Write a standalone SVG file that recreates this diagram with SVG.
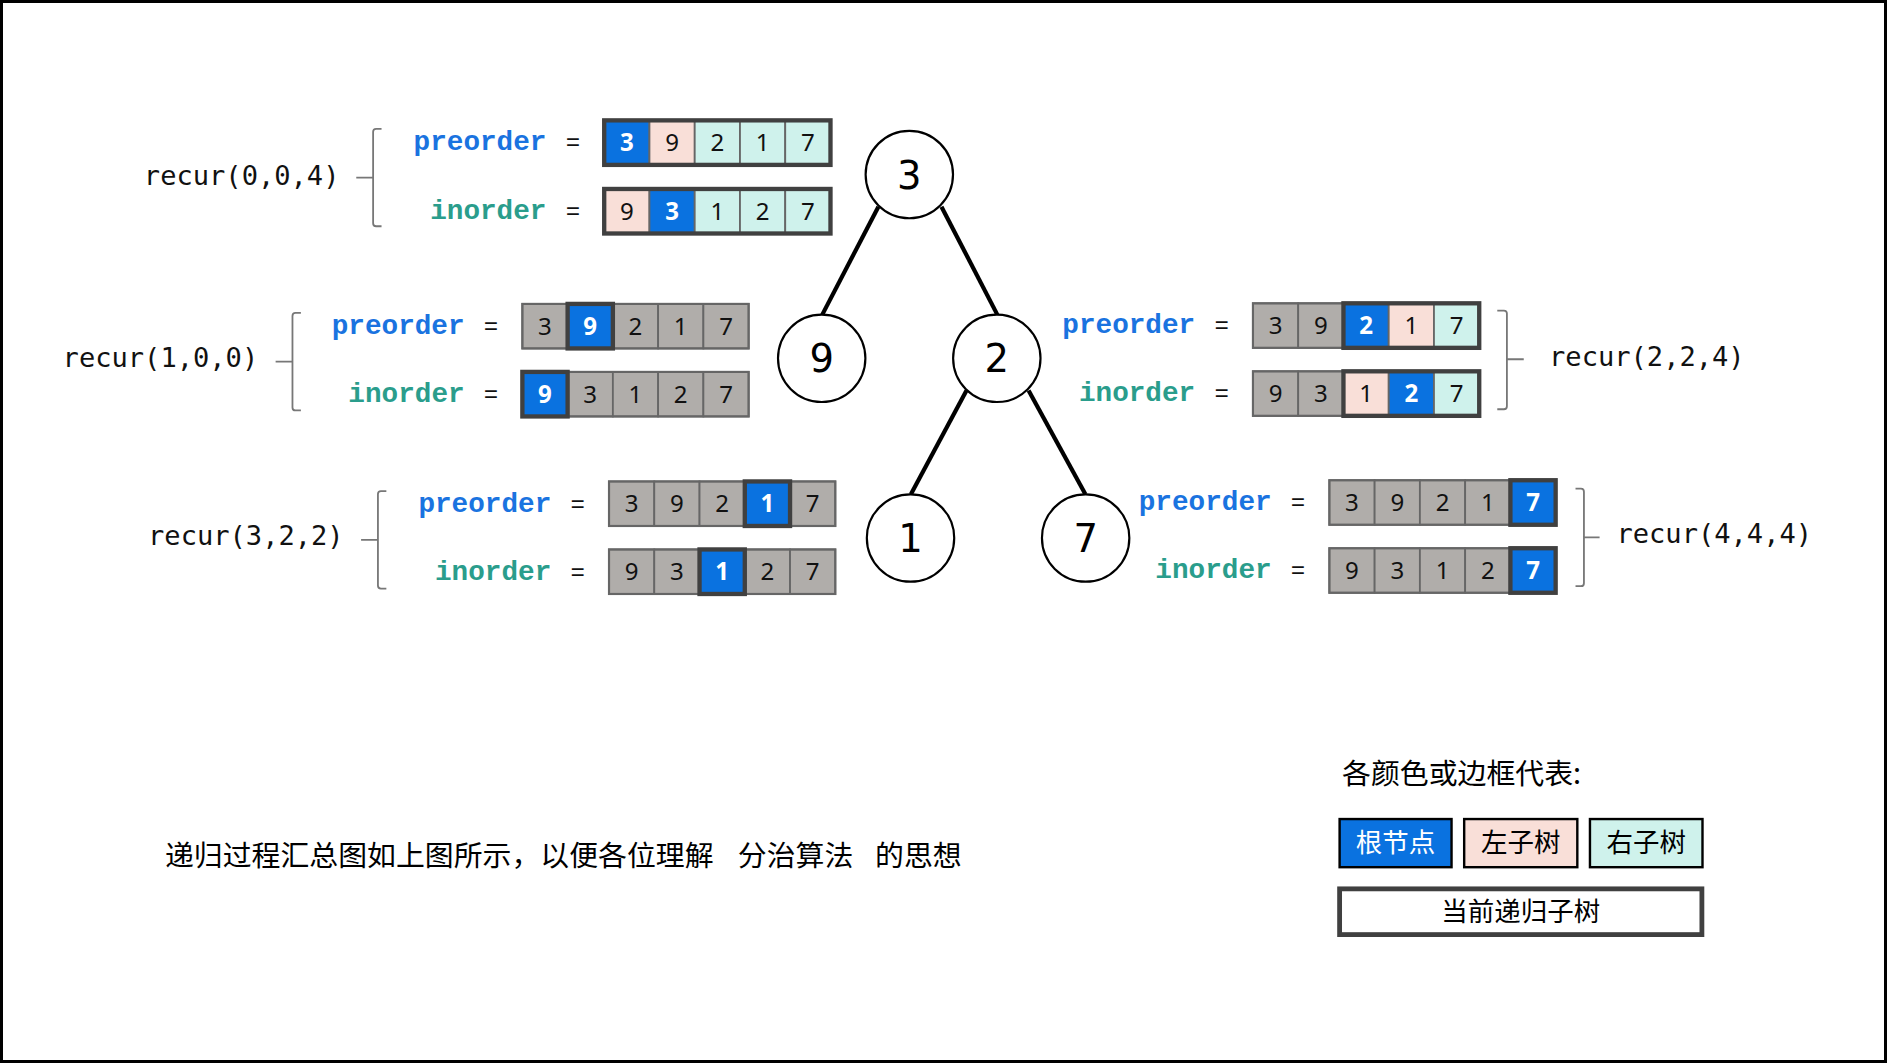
<svg xmlns="http://www.w3.org/2000/svg" width="1887" height="1063" viewBox="0 0 1887 1063">
<style>
.cB{fill:#0a72e0;stroke:#666;stroke-width:1.5}
.cP{fill:#f9dfd8;stroke:#666;stroke-width:1.5}
.cC{fill:#cff2ec;stroke:#666;stroke-width:1.5}
.cG{fill:#b0adaa;stroke:#666;stroke-width:1.5}
.ol{fill:none;stroke:#666;stroke-width:1.8}
.hl{fill:none;stroke:#404040;stroke-width:3.6}
.d{font-family:"Noto Sans","Open Sans",sans-serif;font-size:20px;text-anchor:middle;fill:#111}
.dw{font-weight:bold;fill:#fff}
.pre{font-family:"Liberation Mono",monospace;font-weight:bold;font-size:23px;fill:#1a73e0;text-anchor:end}
.ino{fill:#2a9d8c}
.eq{font-family:"Liberation Mono",monospace;font-size:20px;text-anchor:middle;fill:#111}
.rec{font-family:"DejaVu Sans Mono",monospace;font-size:22.5px;fill:#111}
.br{fill:none;stroke:#777;stroke-width:1.5}
.edge{stroke:#000;stroke-width:3.5;fill:none}
.nc{fill:#fff;stroke:#000;stroke-width:1.8}
.nt{font-family:"DejaVu Sans",sans-serif;font-size:32px;text-anchor:middle;fill:#000}
.cjk{font-family:"Noto Sans CJK SC",sans-serif;font-size:22px;fill:#000}
</style>
<rect x="1.5" y="1.5" width="1884" height="1060" fill="#fff" stroke="#000" stroke-width="3"/>
<g transform="scale(1.2036)">
<g id="connectors">
<line class="edge" x1="729.8" y1="171.7" x2="683.2" y2="261.4"/>
<line class="edge" x1="782.2" y1="171.7" x2="828.6" y2="261.4"/>
<line class="edge" x1="803" y1="324.4" x2="756.8" y2="410.7"/>
<line class="edge" x1="854.6" y1="324.4" x2="901.8" y2="410.7"/>
</g>
<g id="node3"><circle class="nc" cx="755.5" cy="145" r="36.3"/><text class="nt" x="755.5" y="156.7">3</text></g>
<g id="node9"><circle class="nc" cx="682.7" cy="297.7" r="36.3"/><text class="nt" x="682.7" y="309.4">9</text></g>
<g id="node2"><circle class="nc" cx="828.2" cy="297.7" r="36.3"/><text class="nt" x="828.2" y="309.4">2</text></g>
<g id="node1"><circle class="nc" cx="756.5" cy="447" r="36.3"/><text class="nt" x="756.5" y="458.7">1</text></g>
<g id="node7"><circle class="nc" cx="902" cy="447" r="36.3"/><text class="nt" x="902" y="458.7">7</text></g>

<!-- recur(0,0,4) -->
<g id="recur004">
<text class="rec" x="119.5" y="154">recur(0,0,4)</text>
<path class="br" d="M317,107 H312.5 Q310,107 310,109.5 V185.5 Q310,188 312.5,188 H317 M310,147.5 H296"/>
<g transform="translate(502,100)">
<text class="pre" x="-48" y="25">preorder</text><text class="eq" x="-26" y="25">=</text>
<rect class="cB" x="0" y="0" width="37.6" height="37"/><rect class="cP" x="37.6" y="0" width="37.6" height="37"/><rect class="cC" x="75.2" y="0" width="37.6" height="37"/><rect class="cC" x="112.8" y="0" width="37.6" height="37"/><rect class="cC" x="150.4" y="0" width="37.6" height="37"/>
<rect class="hl" x="0" y="0" width="188" height="37"/>
<text class="d dw" x="18.8" y="25.6">3</text><text class="d" x="56.4" y="25.6">9</text><text class="d" x="94" y="25.6">2</text><text class="d" x="131.6" y="25.6">1</text><text class="d" x="169.2" y="25.6">7</text>
</g>
<g transform="translate(502,157)">
<text class="pre ino" x="-48" y="25">inorder</text><text class="eq" x="-26" y="25">=</text>
<rect class="cP" x="0" y="0" width="37.6" height="37"/><rect class="cB" x="37.6" y="0" width="37.6" height="37"/><rect class="cC" x="75.2" y="0" width="37.6" height="37"/><rect class="cC" x="112.8" y="0" width="37.6" height="37"/><rect class="cC" x="150.4" y="0" width="37.6" height="37"/>
<rect class="hl" x="0" y="0" width="188" height="37"/>
<text class="d" x="18.8" y="25.6">9</text><text class="d dw" x="56.4" y="25.6">3</text><text class="d" x="94" y="25.6">1</text><text class="d" x="131.6" y="25.6">2</text><text class="d" x="169.2" y="25.6">7</text>
</g>
</g>

<!-- recur(1,0,0) -->
<g id="recur100">
<text class="rec" x="52" y="305">recur(1,0,0)</text>
<path class="br" d="M250,260 H245.5 Q243,260 243,262.5 V338.5 Q243,341 245.5,341 H250 M243,300.5 H229"/>
<g transform="translate(434,252.5)">
<text class="pre" x="-48" y="25">preorder</text><text class="eq" x="-26" y="25">=</text>
<rect class="cG" x="0" y="0" width="37.6" height="37"/><rect class="cB" x="37.6" y="0" width="37.6" height="37"/><rect class="cG" x="75.2" y="0" width="37.6" height="37"/><rect class="cG" x="112.8" y="0" width="37.6" height="37"/><rect class="cG" x="150.4" y="0" width="37.6" height="37"/>
<rect class="ol" x="0" y="0" width="188" height="37"/>
<rect class="hl" x="37.6" y="0" width="37.6" height="37"/>
<text class="d" x="18.8" y="25.6">3</text><text class="d dw" x="56.4" y="25.6">9</text><text class="d" x="94" y="25.6">2</text><text class="d" x="131.6" y="25.6">1</text><text class="d" x="169.2" y="25.6">7</text>
</g>
<g transform="translate(434,309)">
<text class="pre ino" x="-48" y="25">inorder</text><text class="eq" x="-26" y="25">=</text>
<rect class="cB" x="0" y="0" width="37.6" height="37"/><rect class="cG" x="37.6" y="0" width="37.6" height="37"/><rect class="cG" x="75.2" y="0" width="37.6" height="37"/><rect class="cG" x="112.8" y="0" width="37.6" height="37"/><rect class="cG" x="150.4" y="0" width="37.6" height="37"/>
<rect class="ol" x="0" y="0" width="188" height="37"/>
<rect class="hl" x="0" y="0" width="37.6" height="37"/>
<text class="d dw" x="18.8" y="25.6">9</text><text class="d" x="56.4" y="25.6">3</text><text class="d" x="94" y="25.6">1</text><text class="d" x="131.6" y="25.6">2</text><text class="d" x="169.2" y="25.6">7</text>
</g>
</g>

<!-- recur(3,2,2) -->
<g id="recur322">
<text class="rec" x="123" y="453">recur(3,2,2)</text>
<path class="br" d="M321,408 H316.5 Q314,408 314,410.5 V486.5 Q314,489 316.5,489 H321 M314,448.5 H300"/>
<g transform="translate(506,400)">
<text class="pre" x="-48" y="25">preorder</text><text class="eq" x="-26" y="25">=</text>
<rect class="cG" x="0" y="0" width="37.6" height="37"/><rect class="cG" x="37.6" y="0" width="37.6" height="37"/><rect class="cG" x="75.2" y="0" width="37.6" height="37"/><rect class="cB" x="112.8" y="0" width="37.6" height="37"/><rect class="cG" x="150.4" y="0" width="37.6" height="37"/>
<rect class="ol" x="0" y="0" width="188" height="37"/>
<rect class="hl" x="112.8" y="0" width="37.6" height="37"/>
<text class="d" x="18.8" y="25.6">3</text><text class="d" x="56.4" y="25.6">9</text><text class="d" x="94" y="25.6">2</text><text class="d dw" x="131.6" y="25.6">1</text><text class="d" x="169.2" y="25.6">7</text>
</g>
<g transform="translate(506,456.5)">
<text class="pre ino" x="-48" y="25">inorder</text><text class="eq" x="-26" y="25">=</text>
<rect class="cG" x="0" y="0" width="37.6" height="37"/><rect class="cG" x="37.6" y="0" width="37.6" height="37"/><rect class="cB" x="75.2" y="0" width="37.6" height="37"/><rect class="cG" x="112.8" y="0" width="37.6" height="37"/><rect class="cG" x="150.4" y="0" width="37.6" height="37"/>
<rect class="ol" x="0" y="0" width="188" height="37"/>
<rect class="hl" x="75.2" y="0" width="37.6" height="37"/>
<text class="d" x="18.8" y="25.6">9</text><text class="d" x="56.4" y="25.6">3</text><text class="d dw" x="94" y="25.6">1</text><text class="d" x="131.6" y="25.6">2</text><text class="d" x="169.2" y="25.6">7</text>
</g>
</g>

<!-- recur(2,2,4) -->
<g id="recur224">
<text class="rec" x="1287" y="304.5">recur(2,2,4)</text>
<path class="br" d="M1244,258 H1249.5 Q1252,258 1252,260.5 V337.5 Q1252,340 1249.5,340 H1244 M1252,298.5 H1266"/>
<g transform="translate(1041,252)">
<text class="pre" x="-48" y="25">preorder</text><text class="eq" x="-26" y="25">=</text>
<rect class="cG" x="0" y="0" width="37.6" height="37"/><rect class="cG" x="37.6" y="0" width="37.6" height="37"/><rect class="cB" x="75.2" y="0" width="37.6" height="37"/><rect class="cP" x="112.8" y="0" width="37.6" height="37"/><rect class="cC" x="150.4" y="0" width="37.6" height="37"/>
<rect class="ol" x="0" y="0" width="188" height="37"/>
<rect class="hl" x="75.2" y="0" width="112.8" height="37"/>
<text class="d" x="18.8" y="25.6">3</text><text class="d" x="56.4" y="25.6">9</text><text class="d dw" x="94" y="25.6">2</text><text class="d" x="131.6" y="25.6">1</text><text class="d" x="169.2" y="25.6">7</text>
</g>
<g transform="translate(1041,308.5)">
<text class="pre ino" x="-48" y="25">inorder</text><text class="eq" x="-26" y="25">=</text>
<rect class="cG" x="0" y="0" width="37.6" height="37"/><rect class="cG" x="37.6" y="0" width="37.6" height="37"/><rect class="cP" x="75.2" y="0" width="37.6" height="37"/><rect class="cB" x="112.8" y="0" width="37.6" height="37"/><rect class="cC" x="150.4" y="0" width="37.6" height="37"/>
<rect class="ol" x="0" y="0" width="188" height="37"/>
<rect class="hl" x="75.2" y="0" width="112.8" height="37"/>
<text class="d" x="18.8" y="25.6">9</text><text class="d" x="56.4" y="25.6">3</text><text class="d" x="94" y="25.6">1</text><text class="d dw" x="131.6" y="25.6">2</text><text class="d" x="169.2" y="25.6">7</text>
</g>
</g>

<!-- recur(4,4,4) -->
<g id="recur444">
<text class="rec" x="1343" y="451.5">recur(4,4,4)</text>
<path class="br" d="M1309,406 H1313.5 Q1316,406 1316,408.5 V484.5 Q1316,487 1313.5,487 H1309 M1316,446.5 H1329"/>
<g transform="translate(1104.5,399)">
<text class="pre" x="-48" y="25">preorder</text><text class="eq" x="-26" y="25">=</text>
<rect class="cG" x="0" y="0" width="37.6" height="37"/><rect class="cG" x="37.6" y="0" width="37.6" height="37"/><rect class="cG" x="75.2" y="0" width="37.6" height="37"/><rect class="cG" x="112.8" y="0" width="37.6" height="37"/><rect class="cB" x="150.4" y="0" width="37.6" height="37"/>
<rect class="ol" x="0" y="0" width="188" height="37"/>
<rect class="hl" x="150.4" y="0" width="37.6" height="37"/>
<text class="d" x="18.8" y="25.6">3</text><text class="d" x="56.4" y="25.6">9</text><text class="d" x="94" y="25.6">2</text><text class="d" x="131.6" y="25.6">1</text><text class="d dw" x="169.2" y="25.6">7</text>
</g>
<g transform="translate(1104.5,455.5)">
<text class="pre ino" x="-48" y="25">inorder</text><text class="eq" x="-26" y="25">=</text>
<rect class="cG" x="0" y="0" width="37.6" height="37"/><rect class="cG" x="37.6" y="0" width="37.6" height="37"/><rect class="cG" x="75.2" y="0" width="37.6" height="37"/><rect class="cG" x="112.8" y="0" width="37.6" height="37"/><rect class="cB" x="150.4" y="0" width="37.6" height="37"/>
<rect class="ol" x="0" y="0" width="188" height="37"/>
<rect class="hl" x="150.4" y="0" width="37.6" height="37"/>
<text class="d" x="18.8" y="25.6">9</text><text class="d" x="56.4" y="25.6">3</text><text class="d" x="94" y="25.6">1</text><text class="d" x="131.6" y="25.6">2</text><text class="d dw" x="169.2" y="25.6">7</text>
</g>
</g>

<!-- caption -->
<g id="caption">
<text class="cjk" style="font-size:24px" y="719.5"><tspan x="137">递归过程汇总图如上图所示，以便各位理解</tspan><tspan x="613">分治算法</tspan><tspan x="727">的思想</tspan></text>
</g>

<!-- legend -->
<g id="legend">
<text class="cjk" x="1115" y="651.5" style="font-size:24px">各颜色或边框代表:</text>
<g id="legend-root"><rect x="1113" y="680.5" width="93" height="40" fill="#0a72e0" stroke="#000" stroke-width="2"/><text class="cjk" x="1159.5" y="708" text-anchor="middle" style="fill:#fff">根节点</text></g>
<g id="legend-left"><rect x="1216.5" y="680.5" width="94" height="40" fill="#f9dfd8" stroke="#000" stroke-width="2"/><text class="cjk" x="1263.5" y="708" text-anchor="middle">左子树</text></g>
<g id="legend-right"><rect x="1321" y="680.5" width="93.5" height="40" fill="#cff2ec" stroke="#000" stroke-width="2"/><text class="cjk" x="1367.7" y="708" text-anchor="middle">右子树</text></g>
<g id="legend-current"><rect x="1113" y="738.5" width="301" height="38" fill="#fff" stroke="#404040" stroke-width="4"/><text class="cjk" x="1263.5" y="765" text-anchor="middle">当前递归子树</text></g>
</g>
</g>
</svg>
